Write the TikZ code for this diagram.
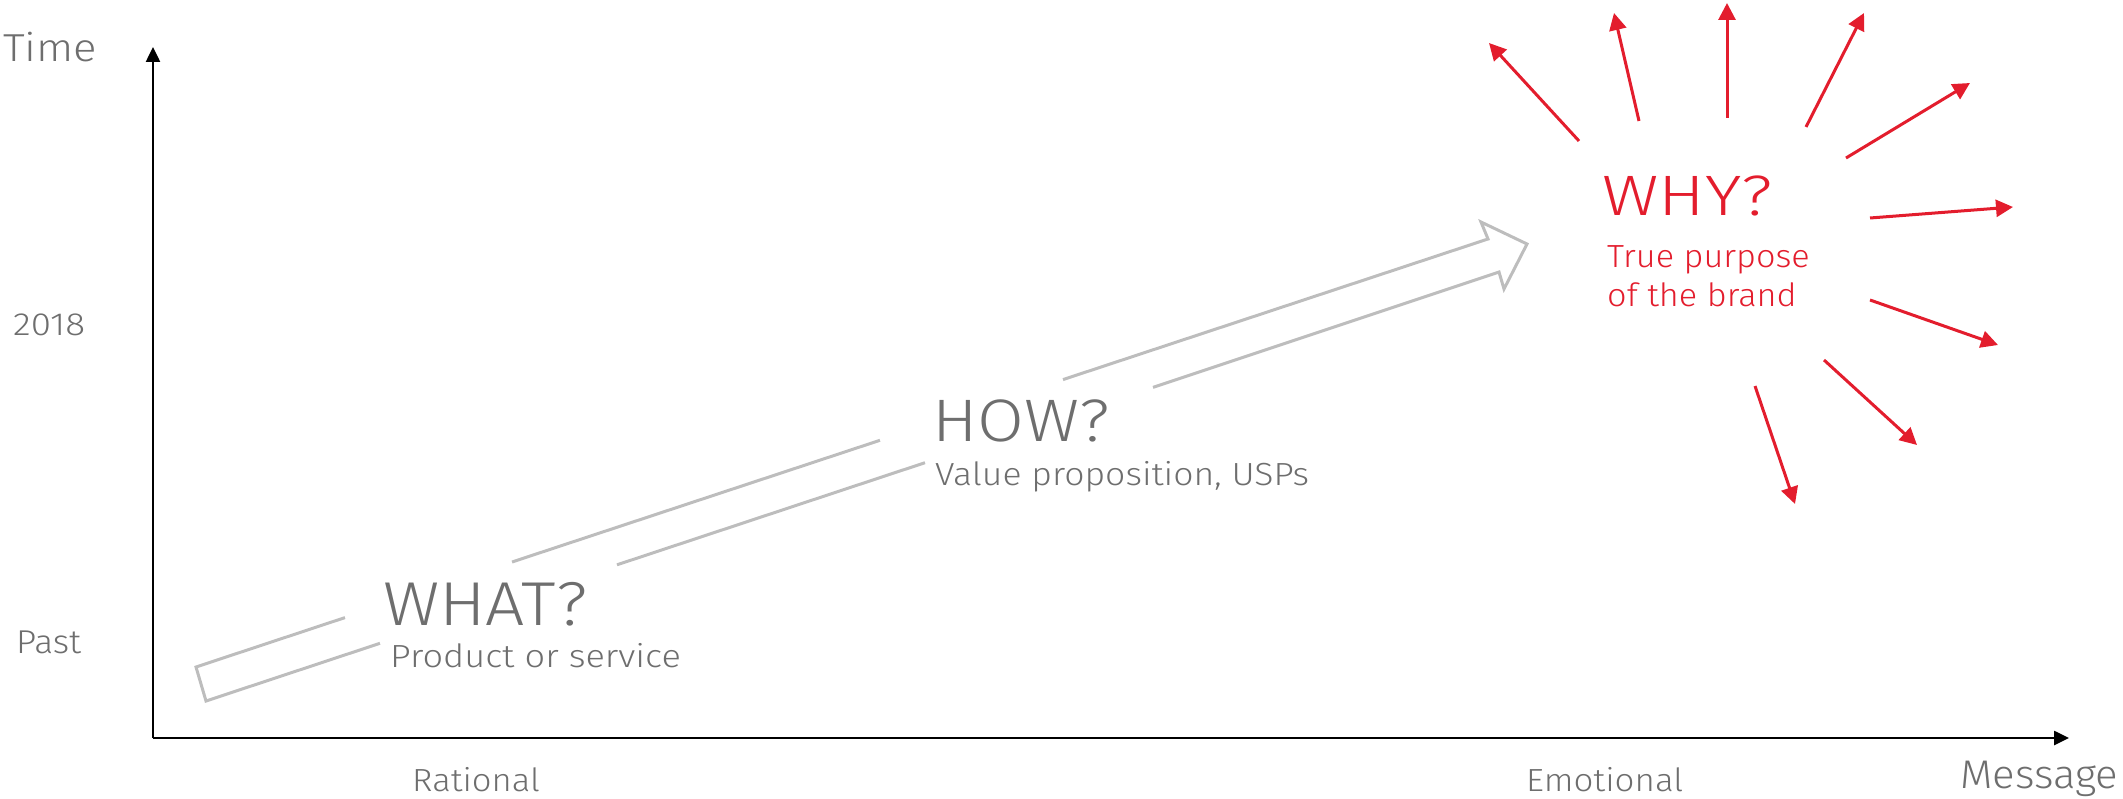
\documentclass[tikz,border=0pt]{standalone}
\usepackage{fontspec}
\setmainfont{Fira Sans Light}
\usetikzlibrary{arrows.meta}
\definecolor{txtgray}{HTML}{6E6E6E}
\definecolor{arrgray}{HTML}{BDBDBD}
\definecolor{brandred}{HTML}{E31D2D}
\newcommand{\fs}[1]{\fontsize{#1}{#1}\selectfont}
\newcommand{\wide}[2]{\scalebox{#1}[1]{#2}}
\tikzset{
  lbl/.style={inner sep=0pt, anchor=base west, text=txtgray},
  redlbl/.style={inner sep=0pt, anchor=base west, text=brandred},
  axisline/.style={line width=2.5pt, black, -{Triangle[length=15pt,width=14pt]}},
  outline/.style={line width=3pt, arrgray, line join=miter},
  ray/.style={line width=3pt, brandred, -{Triangle[length=17pt,width=17pt]}}
}
\begin{document}
\begin{tikzpicture}[x=1pt,y=-1pt]
\useasboundingbox (0,0) rectangle (2123,799);
% axes
\coordinate (origin) at (153,738);
\coordinate (ytip) at (153,47);
\coordinate (xtip) at (2069,738);
\draw[axisline] (origin) -- (ytip);
\draw[axisline] (origin) -- (xtip);
% axis labels
\node[lbl] (time) at (3,62) {\fs{39}\wide{1.12}{Time}};
\node[lbl] (y2018) at (13,336) {\fs{32}\wide{1.15}{2018}};
\node[lbl] (past) at (16,653) {\fs{33}\wide{1.07}{Past}};
\node[lbl] (rational) at (412,791) {\fs{32}\wide{1.08}{Rational}};
\node[lbl] (emotional) at (1526,791) {\fs{32}\wide{1.09}{Emotional}};
\node[lbl] (message) at (1960,788) {\fs{40}\wide{1.05}{Message}};
% hollow arrow (drawn in pieces, gaps at the labels)
\draw[outline] (345,617.6) -- (196,667) -- (206,701) -- (380,643.3);
\draw[outline] (512,562) -- (880,440.3);
\draw[outline] (617,564.8) -- (925,462.7);
\draw[outline] (1063,379.6) -- (1488,239) -- (1481,222) -- (1527,244) -- (1504,289) -- (1499,272) -- (1153,387.4);
% stage labels
\node[lbl] (what) at (383,625) {\fs{62}\wide{1.12}{WHAT?}};
\node[lbl] (whatsub) at (390,667) {\fs{32}\wide{1.13}{Product or service}};
\node[lbl] (how) at (932,441) {\fs{60}\wide{1.13}{HOW?}};
\node[lbl] (howsub) at (935,485) {\fs{32}\wide{1.11}{Value proposition, USPs}};
\node[redlbl] (why) at (1602,216) {\fs{57}\wide{1.22}{WHY?}};
\node[redlbl] (whysub1) at (1607,268) {\fs{32}\wide{1.07}{True purpose}};
\node[redlbl] (whysub2) at (1607,307) {\fs{32}\wide{1.07}{of the brand}};
% rays
\foreach \i/\sx/\sy/\tx/\ty in {
  1/1579/141/1489/43,
  2/1639/121/1614/13,
  3/1727/118/1727/3,
  4/1806/127/1864/13,
  5/1846/158/1970/83,
  6/1870/218/2013/207,
  7/1870/300/1998/345,
  8/1824/360/1917/445,
  9/1755/386/1795/504}{
  \coordinate (rs\i) at (\sx,\sy);
  \coordinate (rt\i) at (\tx,\ty);
  \draw[ray] (rs\i) -- (rt\i);
}
\end{tikzpicture}
\end{document}
